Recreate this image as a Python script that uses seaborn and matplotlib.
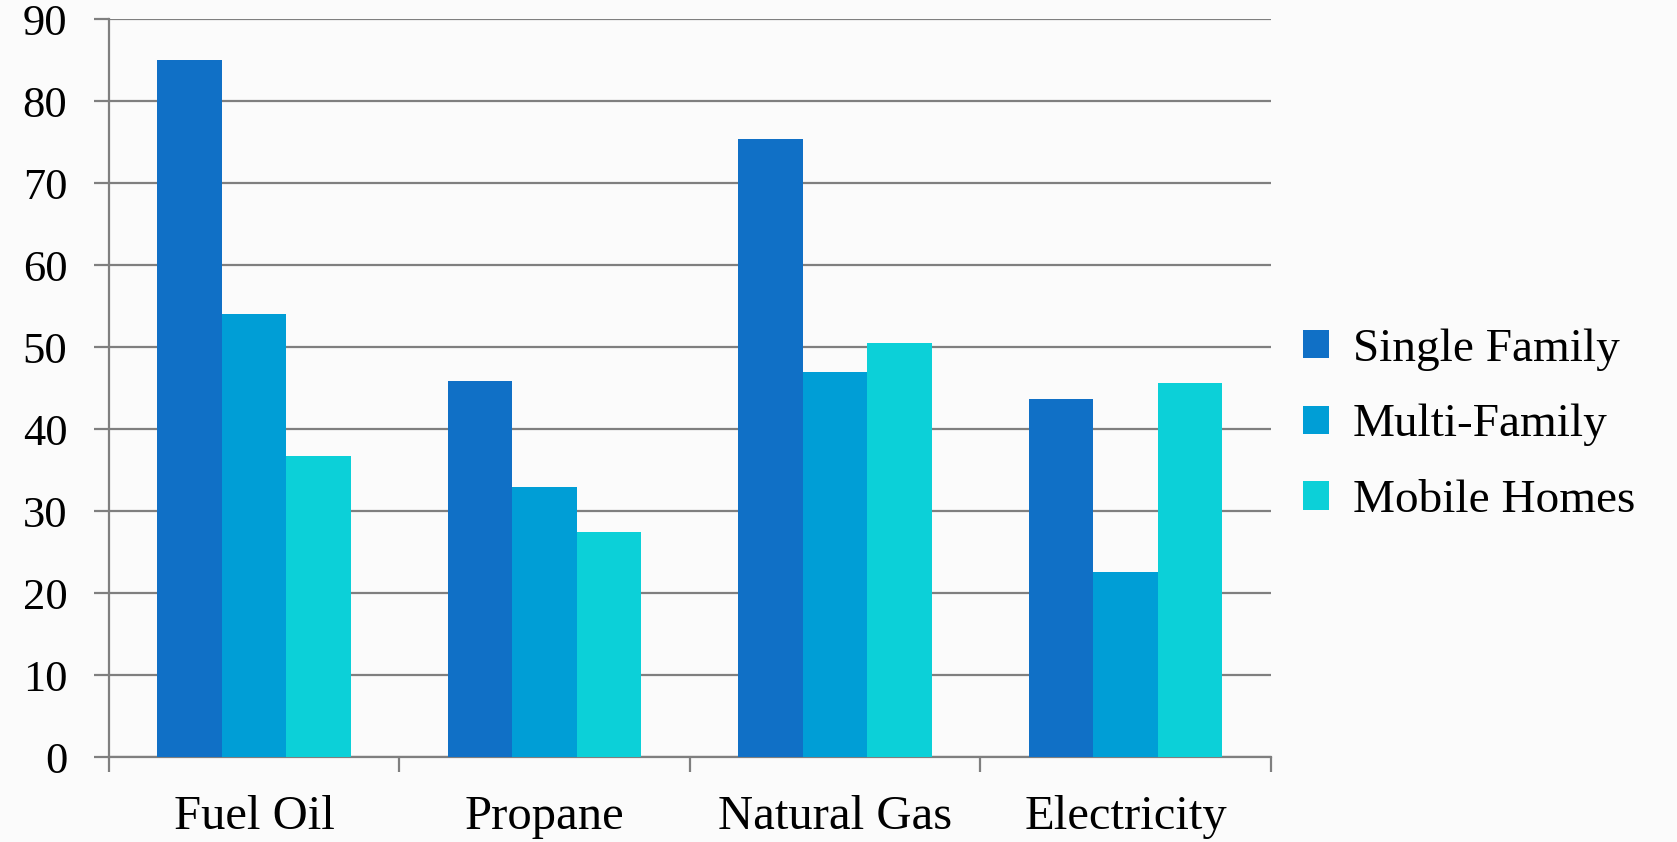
import matplotlib
matplotlib.use('Agg')
import matplotlib.pyplot as plt
import seaborn as sns
import pandas as pd

# 데이터
fuels = ['Fuel Oil', 'Propane', 'Natural Gas', 'Electricity']
home_types = ['Single Family', 'Multi-Family', 'Mobile Homes']
single_family = [85.0, 45.9, 75.4, 43.7]
multi_family = [54.1, 33.0, 47.0, 22.6]
mobile_homes = [36.7, 27.5, 50.5, 45.7]
y_ticks = [0, 10, 20, 30, 40, 50, 60, 70, 80, 90]
colors = ['#1070C6', '#009ED6', '#0CD0D8']

df = pd.DataFrame({
    'fuel': fuels * 3,
    'type': [home_types[0]] * 4 + [home_types[1]] * 4 + [home_types[2]] * 4,
    'value': single_family + multi_family + mobile_homes,
})

sns.set_style('white')
plt.rcParams['font.family'] = ['Liberation Serif', 'DejaVu Serif']
plt.rcParams['text.color'] = 'black'
plt.rcParams['xtick.color'] = 'black'
plt.rcParams['ytick.color'] = 'black'

fig = plt.figure(figsize=(16.77, 8.42), dpi=100, facecolor='#fbfbfb')
ax = fig.add_axes([0.065, 0.1007, 0.6927, 0.8763])
ax.set_facecolor('#fbfbfb')

sns.barplot(data=df, x='fuel', y='value', hue='type', order=fuels,
            hue_order=home_types, palette=colors, width=0.667,
            saturation=1, linewidth=0, ax=ax, zorder=3)

grid_c = '#7f7f7f'
ax.set_ylim(0, 90)
ax.set_xlim(-0.5, 3.5)
ax.set_yticks(y_ticks)
ax.yaxis.grid(True, color=grid_c, linewidth=1.6, zorder=0)
ax.set_axisbelow(True)
ax.tick_params(axis='y', left=True, length=11, width=1.6, color=grid_c,
               labelcolor='black', pad=19, labelsize=32)
ax.tick_params(axis='x', which='major', bottom=False, length=0, pad=27,
               labelcolor='black', labelsize=35)
ax.set_xticks([-0.5, 0.5, 1.5, 2.5, 3.5], minor=True)
ax.tick_params(axis='x', which='minor', bottom=True, length=11, width=1.6,
               color=grid_c, direction='out')
ax.set_xlabel('')
ax.set_ylabel('')

for s in ['top', 'right']:
    ax.spines[s].set_visible(False)
for s in ['left', 'bottom']:
    ax.spines[s].set_color(grid_c)
    ax.spines[s].set_linewidth(1.6)

handles, labels = ax.get_legend_handles_labels()
leg = ax.legend(handles, labels, loc='center left', bbox_to_anchor=(0.777, 0.495),
                bbox_transform=fig.transFigure, frameon=False, fontsize=34,
                handlelength=0.55, handleheight=0.55, handletextpad=0.5,
                labelspacing=0.7, borderpad=0, borderaxespad=0)
for t in leg.get_texts():
    t.set_color('black')

fig.savefig('out.png', dpi=100, facecolor=fig.get_facecolor())
